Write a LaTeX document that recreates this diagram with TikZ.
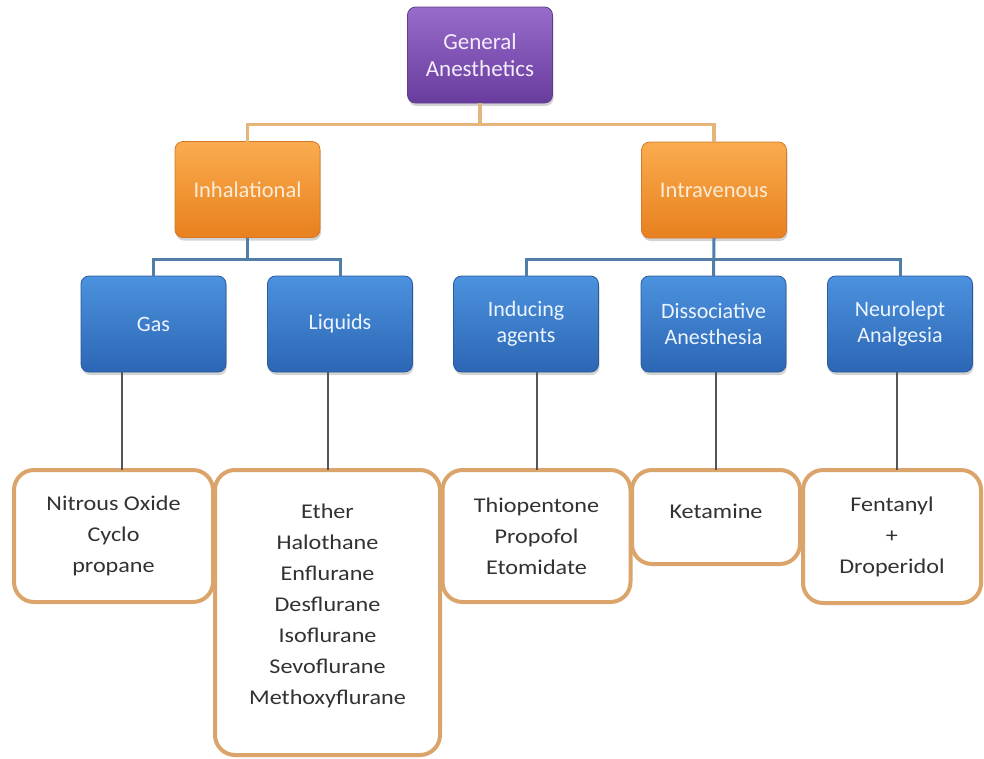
\documentclass[tikz,border=0pt]{standalone}
\usepackage{fontspec}
\setmainfont{Carlito}
\newfontfamily\leaffont{Carlito}[FakeStretch=1.15]
\usetikzlibrary{positioning,shadows}
\definecolor{purpletop}{RGB}{152,108,202}
\definecolor{purplebot}{RGB}{104,60,158}
\definecolor{purpleedge}{RGB}{96,62,140}
\definecolor{orangetop}{RGB}{250,172,78}
\definecolor{orangebot}{RGB}{232,128,30}
\definecolor{orangeedge}{RGB}{214,120,40}
\definecolor{bluetop}{RGB}{76,146,222}
\definecolor{bluebot}{RGB}{44,102,180}
\definecolor{blueedge}{RGB}{40,90,156}
\definecolor{leafedge}{RGB}{218,164,106}
\definecolor{tanline}{RGB}{228,182,124}
\definecolor{steelline}{RGB}{80,126,168}
\definecolor{greyline}{RGB}{85,85,85}
\begin{document}
\begin{tikzpicture}[x=1pt,y=-1pt,
		every node/.style={
			align=center,
			outer sep=0pt,
			inner sep=2pt
		},
		colbox/.style={
			rounded corners=8pt,
			line width=0.8pt,
			minimum width=145pt,
			minimum height=96pt,
			drop shadow={opacity=0.35,shadow xshift=1pt,shadow yshift=-3pt}
		},
		topbox/.style={colbox,draw=purpleedge,top color=purpletop,bottom color=purplebot,
			text={rgb,255:red,244;green,236;blue,250},font=\fontsize{23}{27}\selectfont},
		midbox/.style={colbox,draw=orangeedge,top color=orangetop,bottom color=orangebot,
			text={rgb,255:red,252;green,236;blue,214},font=\fontsize{22.5}{26}\selectfont},
		subbox/.style={colbox,draw=blueedge,top color=bluetop,bottom color=bluebot,
			text={rgb,255:red,236;green,244;blue,255},font=\fontsize{22}{26}\selectfont},
		leafbox/.style={
			draw=leafedge,
			line width=4pt,
			rounded corners=20pt,
			fill=white,
			text={rgb,255:red,50;green,50;blue,50},
			font=\leaffont\fontsize{21}{31}\selectfont
		},
		tan/.style={draw=tanline,line width=3.5pt},
		steel/.style={draw=steelline,line width=3pt},
		grey/.style={draw=greyline,line width=2pt}
		]
		
		% coloured boxes
		\node[topbox] (GA) at (480,55) {General\\Anesthetics};
		\node[midbox] (Inh) at (247.5,189.5) {Inhalational};
		\node[midbox] (Intra) at (714,190) {Intravenous};
		
		\node[subbox] (Gas) at (153.5,324) {Gas};
		\node[subbox] (Liq) at (340,324) {Liquids};
		\node[subbox] (Ind) at (526,324) {Inducing\\agents};
		\node[subbox] (Dis) at (713.5,324) {Dissociative\\Anesthesia};
		\node[subbox] (Neu) at (900,324) {Neurolept\\Analgesia};
		
		% drug boxes
		\node[leafbox,minimum width=199pt,minimum height=132pt] (N1) at (113.5,536) {Nitrous Oxide\\Cyclo\\propane};
		\node[leafbox,minimum width=225pt,minimum height=285pt] (N2) at (327.5,612.5) {Ether\\Halothane\\Enflurane\\Desflurane\\Isoflurane\\Sevoflurane\\Methoxyflurane\\[-15pt]~};
		\node[leafbox,minimum width=188pt,minimum height=132pt] (N3) at (536.5,536) {Thiopentone\\Propofol\\Etomidate};
		\node[leafbox,minimum width=168pt,minimum height=94pt] (N4) at (716,517) {Ketamine\\[-20pt]~};
		\node[leafbox,minimum width=178pt,minimum height=133pt] (N5) at (892,536.5) {Fentanyl\\+\\Droperidol};
		
		% connectors
		\draw[tan] (GA.south) -- ++(0,22);
		\draw[tan] (Inh.north) -- ++(0,-17) -| (Intra.north);
		
		\draw[steel] (Inh.south) -- ++(0,21);
		\draw[steel] (Gas.north) -- ++(0,-17) -| (Liq.north);
		\draw[steel] (Intra.south) -- (Dis.north);
		\draw[steel] (Ind.north) -- ++(0,-17) -| (Neu.north);
		
		\draw[grey] ([xshift=8pt]N1.north) -- ([xshift=8pt]N1.north |- Gas.south);
		\draw[grey] (N2.north) -- (N2.north |- Liq.south);
		\draw[grey] (N3.north) -- (N3.north |- Ind.south);
		\draw[grey] (N4.north) -- (N4.north |- Dis.south);
		\draw[grey] ([xshift=5pt]N5.north) -- ([xshift=5pt]N5.north |- Neu.south);
		
		\useasboundingbox (0,0) rectangle (984,758);
	\end{tikzpicture}
\end{document}
